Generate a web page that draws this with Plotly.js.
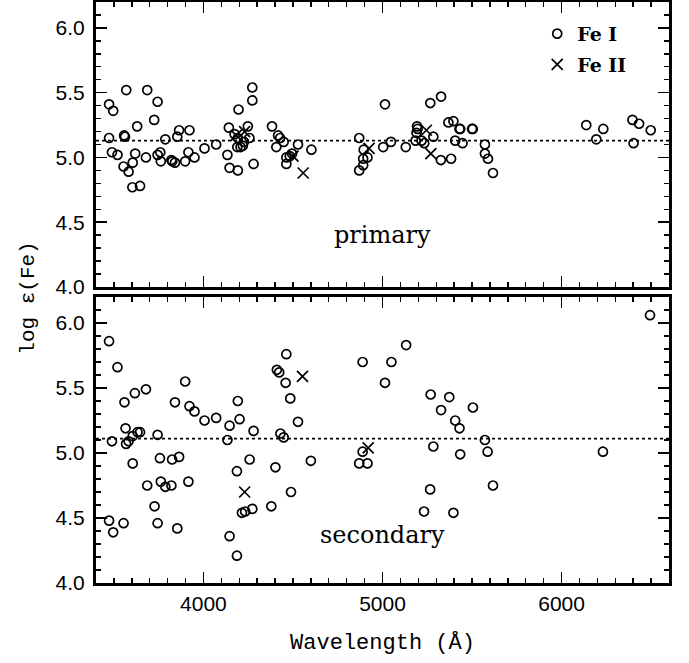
<!DOCTYPE html>
<html><head><meta charset="utf-8">
<script src="https://cdn.plot.ly/plotly-3.0.1.min.js"></script>
<style>html,body{margin:0;padding:0;background:#fff}#chart{width:689px;height:663px}</style>
</head><body><div id="chart"></div>
<script>
// ---- data ----
const priFeIWave = [3473,3496,3473,3489,3520,3569,3557,3562,3554,3582,3605,3619,3630,3603,3646,3686,3679,3725,3744,3744,3759,3762,3787,3821,3826,3841,3854,3864,3898,3916,3922,3950,4006,4071,4142,4134,4146,4192,4273,4273,4196,4174,4192,4189,4207,4226,4248,4257,4220,4280,4383,4417,4428,4407,4448,4463,4463,4482,4495,4528,4603,4870,4870,4892,4892,4916,4895,5004,5014,5047,5130,5193,5196,5190,5185,5218,5233,5284,5267,5327,5326,5383,5368,5396,5406,5447,5430,5434,5500,5504,5572,5572,5589,5617,6138,6194,6233,6396,6433,6402,6498];
const priFeIAbund = [5.41,5.36,5.15,5.04,5.02,5.52,5.17,5.16,4.93,4.89,4.96,5.03,5.24,4.77,4.78,5.52,5.00,5.29,5.43,5.02,5.04,4.97,5.14,4.98,4.97,4.96,5.16,5.21,4.97,5.04,5.21,5.00,5.07,5.10,5.23,5.02,4.92,4.90,5.54,5.44,5.37,5.18,5.15,5.08,5.08,5.12,5.24,5.15,5.09,4.95,5.24,5.17,5.15,5.08,5.12,5.00,4.95,5.01,5.03,5.10,5.06,5.15,4.90,4.94,4.99,5.00,5.06,5.08,5.41,5.12,5.08,5.24,5.22,5.19,5.13,5.13,5.11,5.16,5.42,5.47,4.98,4.99,5.27,5.28,5.13,5.11,5.22,5.22,5.22,5.22,5.10,5.03,4.99,4.88,5.25,5.14,5.22,5.29,5.26,5.11,5.21];
const priFeIIWave = [4183,4230,4500,4557,4925,5245,5270];
const priFeIIAbund = [5.17,5.20,5.01,4.88,5.07,5.21,5.03];

const secFeIWave = [3473,3520,3489,3473,3496,3554,3559,3565,3568,3582,3605,3617,3632,3646,3605,3679,3686,3727,3744,3744,3757,3762,3787,3821,3825,3841,3854,3864,3898,3916,3922,3950,4006,4071,4134,4146,4146,4187,4187,4192,4202,4215,4233,4273,4258,4280,4379,4402,4410,4423,4459,4463,4430,4448,4485,4489,4528,4600,4889,5050,5014,5132,4889,4870,4916,5269,5373,5327,5406,5430,5505,5284,5434,5266,5232,5396,5572,5587,5617,6231,6494];
const secFeIAbund = [5.86,5.66,5.09,4.48,4.39,4.46,5.39,5.19,5.07,5.09,5.13,5.46,5.16,5.16,4.92,5.49,4.75,4.59,4.46,5.14,4.96,4.78,4.74,4.75,4.95,5.39,4.42,4.97,5.55,4.78,5.36,5.32,5.25,5.27,5.10,5.21,4.36,4.86,4.21,5.40,5.26,4.54,4.55,4.57,4.95,5.17,4.59,4.89,5.64,5.62,5.54,5.76,5.15,5.12,5.42,4.70,5.24,4.94,5.70,5.70,5.54,5.83,5.01,4.92,4.92,5.45,5.43,5.33,5.25,5.19,5.35,5.05,4.99,4.72,4.55,4.54,5.10,5.01,4.75,5.01,6.06];
const secFeIIWave = [4230,4553,4920];
const secFeIIAbund = [4.70,5.59,5.04];

const meanPrimary = 5.13;
const meanSecondary = 5.11;
const panelLabels = ["primary", "secondary"];
const seriesNames = ["Fe I", "Fe II"];
const yTickVals = [4.0, 4.5, 5.0, 5.5, 6.0];
const xRange = [3400, 6600];
const yRange = [4.0, 6.2];

// ---- styles ----
const circ = {symbol:'circle-open', size:9, color:'#000', line:{width:1.7, color:'#000'}};
const cross = {symbol:'x-thin-open', size:11, color:'#000', line:{width:1.7, color:'#000'}};

const traces = [
  {x:priFeIWave, y:priFeIAbund, xaxis:'x2', yaxis:'y2', mode:'markers', type:'scatter', name:seriesNames[0], marker:circ, legendgroup:'a'},
  {x:priFeIIWave, y:priFeIIAbund, xaxis:'x2', yaxis:'y2', mode:'markers', type:'scatter', name:seriesNames[1], marker:cross, legendgroup:'b'},
  {x:secFeIWave, y:secFeIAbund, xaxis:'x', yaxis:'y', mode:'markers', type:'scatter', name:seriesNames[0], marker:circ, showlegend:false},
  {x:secFeIIWave, y:secFeIIAbund, xaxis:'x', yaxis:'y', mode:'markers', type:'scatter', name:seriesNames[1], marker:cross, showlegend:false}
];

const tickFont = {family:'Liberation Sans, Arial, sans-serif', size:21, color:'#000'};
function xax(extra){
  return Object.assign({range:xRange, dtick:1000, tick0:0, ticks:'inside', ticklen:11, tickwidth:1.6,
    tickcolor:'#000', showline:true, linewidth:3, linecolor:'#000', mirror:'ticks', showgrid:false, zeroline:false,
    minor:{dtick:100, tick0:0, ticks:'inside', ticklen:5, tickwidth:1.4, tickcolor:'#000', showgrid:false},
    tickfont:tickFont}, extra);
}
function yax(extra){
  return Object.assign({range:yRange, tickmode:'array', tickvals:yTickVals, tickformat:'.1f', ticks:'inside', ticklen:11, tickwidth:1.6,
    tickcolor:'#000', showline:true, linewidth:3, linecolor:'#000', mirror:'ticks', showgrid:false, zeroline:false,
    minor:{dtick:0.1, tick0:0, ticks:'inside', ticklen:5, tickwidth:1.4, tickcolor:'#000', showgrid:false},
    tickfont:tickFont, ticklabelstandoff:4}, extra);
}

const layout = {
  width:689, height:663,
  margin:{l:96, r:20, t:2, b:80},
  paper_bgcolor:'#fff', plot_bgcolor:'#fff',
  showlegend:true,
  legend:{x:0.77, y:0.978, xanchor:'left', yanchor:'top', bgcolor:'rgba(0,0,0,0)', borderwidth:0,
    traceorder:'grouped', tracegroupgap:3,
    font:{family:'DejaVu Serif, serif', size:19, color:'#000', weight:'bold'}},
  xaxis: xax({domain:[0,1], anchor:'y', showticklabels:true,
    title:{text:'Wavelength (Å)', font:{family:'Liberation Mono, Courier New, monospace', size:22, color:'#000'}, standoff:20}}),
  yaxis: yax({domain:[0,0.4923], anchor:'x'}),
  xaxis2: xax({domain:[0,1], anchor:'y2', matches:'x', showticklabels:false}),
  yaxis2: yax({domain:[0.5095,1], anchor:'x2'}),
  shapes:[
    {type:'line', xref:'x2', yref:'y2', x0:xRange[0], x1:xRange[1], y0:meanPrimary, y1:meanPrimary, line:{color:'#000', width:1.8, dash:'dot'}},
    {type:'line', xref:'x', yref:'y', x0:xRange[0], x1:xRange[1], y0:meanSecondary, y1:meanSecondary, line:{color:'#000', width:1.8, dash:'dot'}}
  ],
  annotations:[
    {text:panelLabels[0], xref:'x2', yref:'y2', x:5000, y:4.4, showarrow:false, font:{family:'DejaVu Serif, serif', size:24, color:'#000'}},
    {text:panelLabels[1], xref:'x', yref:'y', x:5000, y:4.37, showarrow:false, font:{family:'DejaVu Serif, serif', size:24, color:'#000'}},
    {text:'log ε(Fe)', xref:'paper', yref:'paper', x:-0.118, y:0.49, xanchor:'center', yanchor:'middle', textangle:-90, showarrow:false,
     font:{family:'Liberation Mono, Courier New, monospace', size:21, color:'#000'}}
  ]
};

Plotly.newPlot('chart', traces, layout, {displayModeBar:false, staticPlot:true});
</script>
</body></html>
